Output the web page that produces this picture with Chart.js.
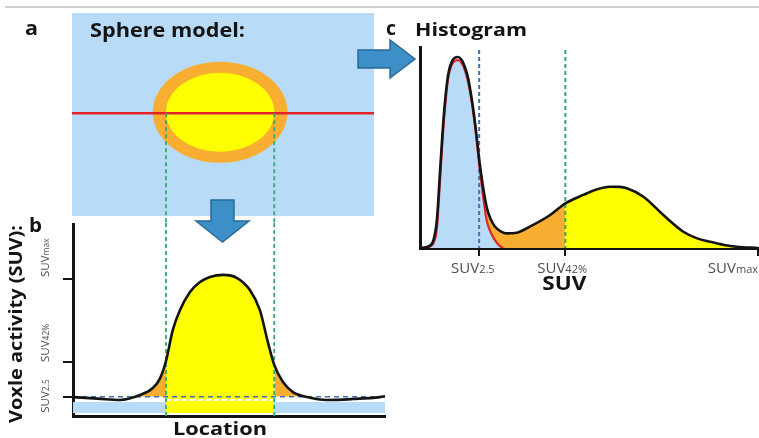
<!DOCTYPE html>
<html>
<head>
<meta charset="utf-8">
<title>SUV thresholds: sphere model, activity profile and histogram</title>
<script src="https://cdn.jsdelivr.net/npm/chart.js@4.4.1/dist/chart.umd.min.js"></script>
<style>
  html, body { margin: 0; padding: 0; background: #fff; }
  #figure { position: relative; width: 759px; height: 438px; overflow: hidden; background: #fff; }
  #figure canvas { position: absolute; }
  #rule { position: absolute; left: 5px; top: 6px; width: 754px; height: 2px; background: #cfcfcf; }
  #arrows { position: absolute; left: 0; top: 0; pointer-events: none; }
</style>
</head>
<body>
<div id="figure">
  <div id="rule"></div>
  <canvas id="sphere" width="380" height="240" style="left:0;top:0"></canvas>
  <canvas id="profile" width="400" height="215" style="left:0;top:223px"></canvas>
  <canvas id="histogram" width="379" height="300" style="left:380px;top:0"></canvas>
  <svg id="arrows" width="759" height="438">
    <polygon points="211,200 234,200 234,221 249,221 222.5,242 196,221 211,221" fill="#3d8fc7" stroke="#2a6a99" stroke-width="1.5"/>
    <polygon points="358,50 390,50 390,40 415,59 390,78 390,68 358,68" fill="#3d8fc7" stroke="#2a6a99" stroke-width="1.5"/>
  </svg>
</div>
<script>
// ---- Panel a: sphere model (x in the same location units as panel b) ----
const sphereLocationRange = [-0.32, 96.47];
const sphereCentre = [47.15, 51.1];   // [location, height]
const outerRadii = [21.6, 24.9];      // orange rim
const innerRadii = [17.35, 19.5];     // yellow core
const crossSectionLevel = 50.6;       // red profile line

// ---- Panel b: voxel activity along the profile line ----
const profileLocation = [0, 8, 15, 21.5, 25.6, 27.9, 29.8, 32, 34.3, 37.5, 40.7, 43.9, 48.1, 52.6, 56.7, 59.9, 62.5, 64.5, 67.3, 70.5, 75, 81.4, 89.7, 98.4, 100];
const profileActivity = [9.8, 9.0, 8.3, 10.9, 14.5, 19.5, 28.5, 44.6, 54.9, 64.2, 69.4, 72, 73.1, 71.5, 65.3, 54.9, 38, 26.5, 17.6, 12.4, 9.8, 8.3, 8.8, 9.8, 10.2];
const profileTicks = [10, 28, 71];
const tickNames = ['SUV', 'SUV', 'SUV'];
const tickSuffixes = ['2.5', '42%', 'max'];
const threshold25 = 10;
const tumourEdges = [29.8, 64.5];
const maskBand = [1.6, 7.2];
const maskGapLevel = 8.3;

// ---- Panel c: SUV histogram ----
const suvBins = [0, 2.5, 4, 5, 6, 7, 8.3, 9.5, 11.2, 12.8, 14.3, 15.5, 16.3, 17.8, 19.7, 21, 22.2, 24, 25.6, 28.6, 32.5, 38.5, 43, 48.3, 52, 56.2, 59, 61.2, 66.1, 72, 77.9, 82, 85.8, 90, 93.7, 100];
const voxelCount = [0, 0.8, 4, 14, 40, 65, 86, 93, 95, 92, 84, 72, 62, 40.3, 20.5, 14, 10.6, 8.2, 7.3, 7.6, 10.6, 16.4, 22.2, 26.4, 29, 30.5, 30.4, 29.7, 25.5, 16.4, 8.1, 4.8, 3.1, 1.5, 0.6, 0];
const backgroundSuv = [1.5, 2.5, 4, 5, 6, 7, 8.3, 9.5, 11.2, 12.8, 14.3, 15.5, 16.3, 17.8, 19.7, 21, 22.2, 23.5, 24.6];
const backgroundCount = [0, 0.4, 2.5, 10, 36, 62, 84, 91.5, 93.5, 90.5, 82, 70.5, 60.5, 37.5, 14, 7.5, 3.8, 1.2, 0];
const histTicks = [17.5, 43, 100];

// ---- colours ----
const INK = '#141414';
const SKY = '#b8dbf8';
const ORANGE = '#f8ae30';
const YELLOW = '#ffff00';
const RED = '#e3232a';
const GREEN = '#35a86c';
const BLUE_DASH = '#3f72b0';
const TICK_TEXT = '#4e4e4e';
const CLEAR = 'rgba(0,0,0,0)';
const FONT = '"Open Sans", "DejaVu Sans", sans-serif';

const toPoints = (xs, ys) => xs.map((x, i) => ({ x, y: ys[i] }));
const between = (pts, lo, hi) => pts.filter(p => p.x >= lo && p.x <= hi);
const straight = { pointRadius: 0, pointHoverRadius: 0, tension: 0, fill: false };
const curve = { pointRadius: 0, pointHoverRadius: 0, cubicInterpolationMode: 'monotone', fill: false };
const solidFill = (target, colour) => ({ target, above: colour, below: colour });

function drawText(ctx, text, x, y, o) {
  ctx.save();
  ctx.font = o.font;
  ctx.fillStyle = o.color || INK;
  ctx.textBaseline = o.baseline || 'alphabetic';
  ctx.textAlign = 'left';
  ctx.translate(x, y);
  if (o.rotate) ctx.rotate(o.rotate);
  const w = ctx.measureText(text).width;
  const sx = o.width ? o.width / w : 1;
  const align = o.align || 'left';
  const start = align === 'center' ? -w * sx / 2 : align === 'right' ? -w * sx : 0;
  ctx.translate(start, 0);
  ctx.scale(sx, 1);
  ctx.fillText(text, 0, 0);
  ctx.restore();
}

// "SUV" with a smaller suffix on the same baseline
function drawSuvLabel(ctx, name, suffix, x, y, o) {
  ctx.save();
  ctx.translate(x, y);
  if (o.rotate) ctx.rotate(o.rotate);
  ctx.fillStyle = TICK_TEXT;
  ctx.textBaseline = 'alphabetic';
  ctx.textAlign = 'left';
  ctx.font = o.big;
  const wn = ctx.measureText(name).width;
  ctx.font = o.small;
  const ws = ctx.measureText(suffix).width;
  let x0 = 0;
  if (o.anchor === 'split') x0 = -wn;
  else if (o.anchor === 'end') x0 = -(wn + ws);
  ctx.font = o.big;
  ctx.fillText(name, x0, 0);
  ctx.font = o.small;
  ctx.fillText(suffix, x0 + wn, 0);
  ctx.restore();
}

const baseOptions = {
  responsive: false,
  animation: false,
  events: [],
  plugins: { legend: { display: false }, tooltip: { enabled: false } }
};

// ---------------- Panel a ----------------
const spherePlugin = {
  id: 'sphereModel',
  beforeDatasetsDraw(chart) {
    const { ctx, chartArea: a, scales: { x, y } } = chart;
    ctx.save();
    ctx.fillStyle = SKY;
    ctx.fillRect(a.left, a.top, a.right - a.left, a.bottom - a.top);
    const cx = x.getPixelForValue(sphereCentre[0]);
    const cy = y.getPixelForValue(sphereCentre[1]);
    [[outerRadii, ORANGE], [innerRadii, YELLOW]].forEach(([r, colour]) => {
      const rx = x.getPixelForValue(sphereCentre[0] + r[0]) - cx;
      const ry = cy - y.getPixelForValue(sphereCentre[1] + r[1]);
      ctx.beginPath();
      ctx.ellipse(cx, cy, rx, ry, 0, 0, Math.PI * 2);
      ctx.fillStyle = colour;
      ctx.fill();
    });
    ctx.restore();
  },
  afterDatasetsDraw(chart) {
    // tumour edges projected from the profile line down to panel b
    const { ctx, scales: { x, y } } = chart;
    const joinY = document.getElementById('profile').offsetTop;
    ctx.save();
    ctx.strokeStyle = GREEN;
    ctx.lineWidth = 1.8;
    ctx.setLineDash([4, 3]);
    tumourEdges.forEach(e => {
      const px = x.getPixelForValue(e);
      ctx.beginPath();
      ctx.moveTo(px, y.getPixelForValue(crossSectionLevel));
      ctx.lineTo(px, joinY);
      ctx.stroke();
    });
    ctx.restore();
  },
  afterDraw(chart) {
    const ctx = chart.ctx;
    drawText(ctx, 'a', 25, 35, { font: 'bold 20px ' + FONT, width: 13 });
    drawText(ctx, 'Sphere model:', 90, 37, { font: 'bold 19px ' + FONT, width: 155 });
    drawText(ctx, 'b', 29, 232, { font: 'bold 19px ' + FONT, width: 13 });
  }
};

new Chart(document.getElementById('sphere'), {
  type: 'line',
  data: {
    datasets: [{
      ...straight,
      data: [{ x: sphereLocationRange[0], y: crossSectionLevel }, { x: sphereLocationRange[1], y: crossSectionLevel }],
      borderColor: RED,
      borderWidth: 2.6
    }]
  },
  options: {
    ...baseOptions,
    layout: { padding: { left: 72, top: 13, right: 6, bottom: 24 } },
    scales: {
      x: { type: 'linear', display: false, min: sphereLocationRange[0], max: sphereLocationRange[1] },
      y: { type: 'linear', display: false, min: 0, max: 100 }
    }
  },
  plugins: [spherePlugin]
});

// ---------------- Panel b ----------------
const profilePts = toPoints(profileLocation, profileActivity);
const profileLabelShift = [16, 0, -2];

const profileLabels = {
  id: 'profileLabels',
  afterDraw(chart) {
    const { ctx, scales: { y } } = chart;
    profileTicks.forEach((v, i) => {
      drawSuvLabel(ctx, tickNames[i], tickSuffixes[i], 49, y.getPixelForValue(v) + profileLabelShift[i], {
        big: '11.5px ' + FONT, small: '8.5px ' + FONT, anchor: 'start', rotate: -Math.PI / 2
      });
    });
    drawText(ctx, 'Voxle activity (SUV):', 17, 101, {
      font: 'bold 18px ' + FONT, rotate: -Math.PI / 2, align: 'center', baseline: 'middle', width: 198
    });
    drawText(ctx, 'Location', 220, 212, { font: 'bold 18px ' + FONT, align: 'center', width: 94 });
  }
};

new Chart(document.getElementById('profile'), {
  type: 'line',
  data: {
    datasets: [
      { ...curve, data: profilePts, borderColor: INK, borderWidth: 2.6, order: 0 },
      { ...straight, data: [{ x: 0, y: threshold25 }, { x: 100, y: threshold25 }], borderColor: BLUE_DASH, borderWidth: 1.6, borderDash: [5, 4], order: 1 },
      ...tumourEdges.map(e => ({ ...straight, data: [{ x: e, y: 100 }, { x: e, y: 0 }], borderColor: GREEN, borderWidth: 1.8, borderDash: [4, 3], order: 2 })),
      { ...straight, data: [{ x: tumourEdges[0], y: maskGapLevel }, { x: tumourEdges[1], y: maskGapLevel }], borderColor: '#ffffff', borderWidth: 2, borderDash: [5, 3], order: 3 },
      { ...curve, data: between(profilePts, tumourEdges[0], tumourEdges[1]), borderColor: CLEAR, borderWidth: 1, fill: solidFill({ value: maskBand[0] }, YELLOW), order: 4 },
      { ...curve, data: between(profilePts, 15, tumourEdges[0]), borderColor: CLEAR, borderWidth: 1, fill: { target: { value: threshold25 }, above: ORANGE, below: CLEAR }, order: 5 },
      { ...curve, data: between(profilePts, tumourEdges[1], 82), borderColor: CLEAR, borderWidth: 1, fill: { target: { value: threshold25 }, above: ORANGE, below: CLEAR }, order: 5 },
      { ...straight, data: [{ x: 0, y: maskBand[1] }, { x: 100, y: maskBand[1] }], borderColor: CLEAR, borderWidth: 1, fill: solidFill({ value: maskBand[0] }, SKY), order: 6 }
    ]
  },
  options: {
    ...baseOptions,
    layout: { padding: { left: 63, top: 0, right: 15, bottom: 22 } },
    scales: {
      x: {
        type: 'linear', min: 0, max: 100,
        ticks: { display: false },
        grid: { display: false, drawTicks: false },
        border: { display: true, color: INK, width: 3 }
      },
      y: {
        type: 'linear', min: 0, max: 100,
        afterBuildTicks: s => { s.ticks = profileTicks.map(v => ({ value: v })); },
        ticks: { display: false },
        grid: { display: true, drawOnChartArea: false, drawTicks: true, tickLength: 10, color: INK, lineWidth: 2 },
        border: { display: true, color: INK, width: 3 }
      }
    }
  },
  plugins: [profileLabels]
});

// ---------------- Panel c ----------------
const totalPts = toPoints(suvBins, voxelCount);
const backgroundPts = toPoints(backgroundSuv, backgroundCount);
const histAnchors = ['split', 'split', 'end'];

const histogramLabels = {
  id: 'histogramLabels',
  afterDraw(chart) {
    const { ctx, scales: { x } } = chart;
    drawText(ctx, 'c', 6, 35, { font: 'bold 19px ' + FONT, width: 10 });
    drawText(ctx, 'Histogram', 35, 36, { font: 'bold 17px ' + FONT, width: 112 });
    histTicks.forEach((v, i) => {
      drawSuvLabel(ctx, tickNames[i], tickSuffixes[i], x.getPixelForValue(v), 273, {
        big: '15px ' + FONT, small: '11px ' + FONT, anchor: histAnchors[i]
      });
    });
    drawText(ctx, 'SUV', x.getPixelForValue(histTicks[1]) - 1, 290, { font: 'bold 19px ' + FONT, align: 'center', width: 44 });
  }
};

new Chart(document.getElementById('histogram'), {
  type: 'line',
  data: {
    datasets: [
      { ...curve, data: totalPts, borderColor: INK, borderWidth: 2.6, order: 0 },
      { ...curve, data: backgroundPts, borderColor: RED, borderWidth: 2.2, order: 1 },
      { ...straight, data: [{ x: histTicks[0], y: 98.5 }, { x: histTicks[0], y: 0 }], borderColor: BLUE_DASH, borderWidth: 2, borderDash: [4, 3], order: 2 },
      { ...straight, data: [{ x: histTicks[1], y: 98.5 }, { x: histTicks[1], y: 0 }], borderColor: GREEN, borderWidth: 2, borderDash: [4, 3], order: 2 },
      { ...curve, data: backgroundPts, borderColor: CLEAR, borderWidth: 1, fill: solidFill('origin', SKY), order: 3 },
      { ...curve, data: between(totalPts, histTicks[1], 100), borderColor: CLEAR, borderWidth: 1, fill: solidFill('origin', YELLOW), order: 4 },
      { ...curve, data: between(totalPts, 17.8, histTicks[1]), borderColor: CLEAR, borderWidth: 1, fill: solidFill('origin', ORANGE), order: 5 }
    ]
  },
  options: {
    ...baseOptions,
    layout: { padding: { left: 40, top: 47, right: 1, bottom: 44 } },
    scales: {
      x: {
        type: 'linear', min: 0, max: 100,
        afterBuildTicks: s => { s.ticks = histTicks.map(v => ({ value: v })); },
        ticks: { display: false },
        grid: { display: true, drawOnChartArea: false, drawTicks: true, tickLength: 8, color: INK, lineWidth: 2 },
        border: { display: true, color: INK, width: 3 }
      },
      y: {
        type: 'linear', min: 0, max: 100,
        ticks: { display: false },
        grid: { display: false, drawTicks: false },
        border: { display: true, color: INK, width: 3 }
      }
    }
  },
  plugins: [histogramLabels]
});
</script>
</body>
</html>
